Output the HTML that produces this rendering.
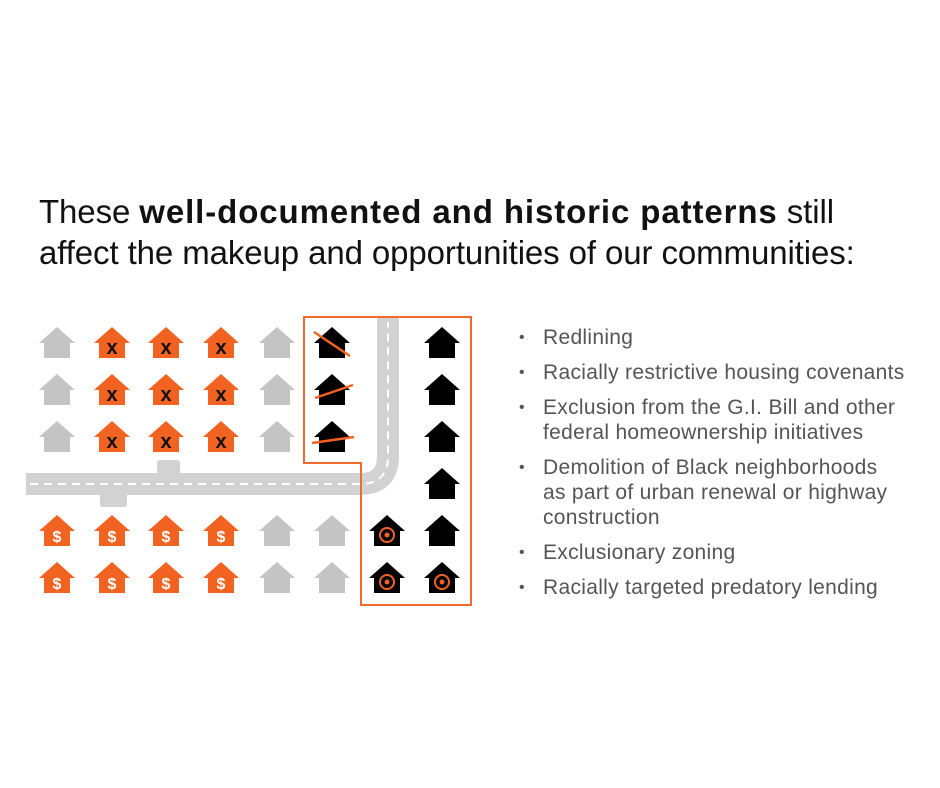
<!DOCTYPE html>
<html><head><meta charset="utf-8"><style>
body{margin:0;background:#fff;width:940px;height:788px;overflow:hidden;position:relative;font-family:"Liberation Sans",Arial,sans-serif}
.h{position:absolute;left:39px;top:191px;font-size:33px;line-height:41px;letter-spacing:-0.1px;color:#111;white-space:nowrap}
.h b{font-weight:bold;letter-spacing:0.9px}
ul{position:absolute;left:519px;top:325px;margin:0;padding:0;list-style:none;color:#555;font-size:21px;letter-spacing:0.3px;line-height:25px}
li{position:relative;padding-left:24px;margin-bottom:10px}
li:before{content:"•";position:absolute;left:0;font-size:16px}
</style></head><body>
<div class="h">These <b>well-documented and historic patterns</b> still<br>affect the makeup and opportunities of our communities:</div>
<svg width="940" height="788" style="position:absolute;left:0;top:0">
<defs><path id="h" d="M0,-16 L18,0 L13,0 L13,15 L-13,15 L-13,0 L-18,0 Z"/></defs>
<g fill="#d2d2d2">
<rect x="157" y="460" width="23" height="16" rx="3"/>
<rect x="100" y="492" width="27" height="15" rx="3"/>
</g>
<path d="M26,484 L360,484 Q388,484 388,456 L388,318" fill="none" stroke="#d2d2d2" stroke-width="22"/>
<path d="M30,484 L360,484 Q388,484 388,456 L388,322" fill="none" stroke="#fff" stroke-width="2" stroke-dasharray="8 6"/>
<path d="M304,317 L471,317 L471,605 L361,605 L361,463 L304,463 Z" fill="none" stroke="#f26a30" stroke-width="2"/>
<g fill="#c4c4c4">
<use href="#h" x="57" y="343"/><use href="#h" x="57" y="390"/><use href="#h" x="57" y="437"/>
<use href="#h" x="277" y="343"/><use href="#h" x="277" y="390"/><use href="#h" x="277" y="437"/>
<use href="#h" x="277" y="531"/><use href="#h" x="277" y="578"/><use href="#h" x="332" y="531"/><use href="#h" x="332" y="578"/>
</g>
<g fill="#f26322">
<use href="#h" x="112" y="343"/><use href="#h" x="166" y="343"/><use href="#h" x="221" y="343"/>
<use href="#h" x="112" y="390"/><use href="#h" x="166" y="390"/><use href="#h" x="221" y="390"/>
<use href="#h" x="112" y="437"/><use href="#h" x="166" y="437"/><use href="#h" x="221" y="437"/>
<use href="#h" x="57" y="531"/><use href="#h" x="112" y="531"/><use href="#h" x="166" y="531"/><use href="#h" x="221" y="531"/>
<use href="#h" x="57" y="578"/><use href="#h" x="112" y="578"/><use href="#h" x="166" y="578"/><use href="#h" x="221" y="578"/>
</g>
<g font-family="Liberation Sans,sans-serif" font-weight="bold" font-size="20" text-anchor="middle">
<g fill="#111">
<text x="112" y="354">x</text><text x="166" y="354">x</text><text x="221" y="354">x</text>
<text x="112" y="401">x</text><text x="166" y="401">x</text><text x="221" y="401">x</text>
<text x="112" y="448">x</text><text x="166" y="448">x</text><text x="221" y="448">x</text>
</g>
<g fill="#fff" font-size="16">
<text x="57" y="542">$</text><text x="112" y="542">$</text><text x="166" y="542">$</text><text x="221" y="542">$</text>
<text x="57" y="589">$</text><text x="112" y="589">$</text><text x="166" y="589">$</text><text x="221" y="589">$</text>
</g>
</g>
<g fill="#000">
<use href="#h" x="332" y="343"/><use href="#h" x="332" y="390"/><use href="#h" x="332" y="437"/>
<use href="#h" x="442" y="343"/><use href="#h" x="442" y="390"/><use href="#h" x="442" y="437"/>
<use href="#h" x="442" y="484"/><use href="#h" x="442" y="531"/><use href="#h" x="442" y="578"/>
<use href="#h" x="387" y="531"/><use href="#h" x="387" y="578"/>
</g>
<g stroke="#f26322" stroke-width="2.5">
<line x1="314" y1="332" x2="350" y2="356"/>
<line x1="315" y1="398" x2="353" y2="385"/>
<line x1="312" y1="443" x2="354" y2="437"/>
</g>
<g fill="none" stroke="#f26322" stroke-width="2">
<circle cx="387" cy="535" r="7"/><circle cx="387" cy="582" r="7"/><circle cx="442" cy="582" r="7"/>
</g>
<g fill="#f26322">
<circle cx="387" cy="535" r="2.5"/><circle cx="387" cy="582" r="2.5"/><circle cx="442" cy="582" r="2.5"/>
</g>
</svg>
<ul>
<li>Redlining</li>
<li>Racially restrictive housing covenants</li>
<li>Exclusion from the G.I. Bill and other<br>federal homeownership initiatives</li>
<li>Demolition of Black neighborhoods<br>as part of urban renewal or highway<br>construction</li>
<li>Exclusionary zoning</li>
<li>Racially targeted predatory lending</li>
</ul>
</body></html>
